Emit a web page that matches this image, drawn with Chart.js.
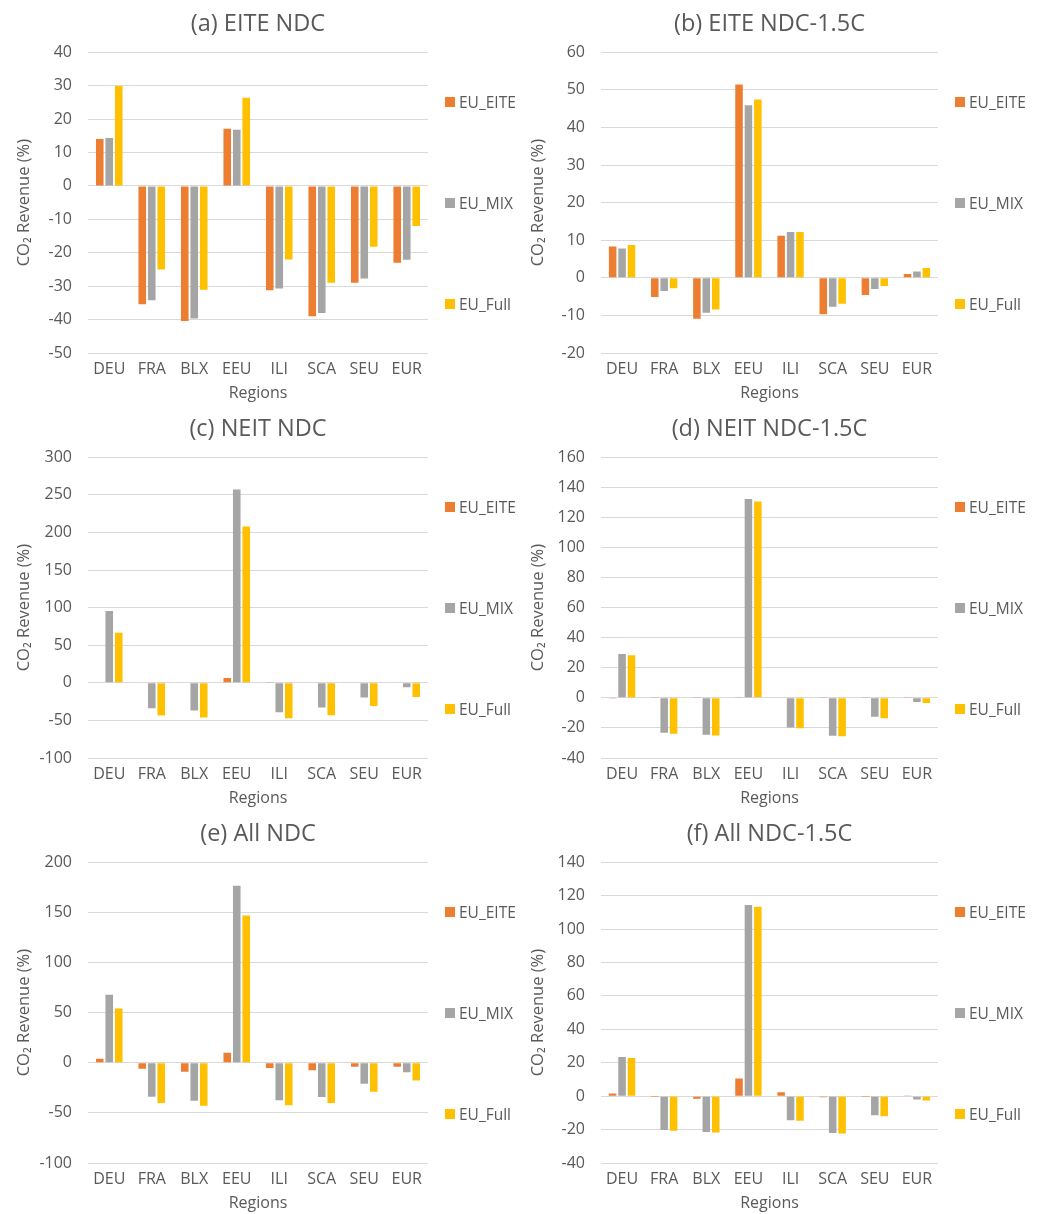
<!DOCTYPE html>
<html>
<head>
<meta charset="utf-8">
<title>CO2 Revenue by region</title>
<script src="https://cdn.jsdelivr.net/npm/chart.js@4.4.1/dist/chart.umd.min.js"></script>
<style>
  body { margin: 0; background: #fff; overflow: hidden; font-family: "Open Sans", sans-serif; }
  .panel { position: absolute; height: 405px; }
  .panel canvas { position: absolute; left: 0; top: 0; }
  .legend-item { position: absolute; display: flex; align-items: center; height: 18px;
                 font-size: 15.5px; color: #595959; white-space: nowrap; }
  .legend-item span { display: inline-block; width: 10px; height: 10px; margin-right: 4px; }
</style>
</head>
<body>
<div id="wrap"></div>
<script>
var regions = ["DEU", "FRA", "BLX", "EEU", "ILI", "SCA", "SEU", "EUR"];
var seriesNames = ["EU_EITE", "EU_MIX", "EU_Full"];
var seriesColors = ["#ED7D31", "#A5A5A5", "#FFC000"];

var panelTitles = ["(a) EITE NDC", "(b) EITE NDC-1.5C", "(c) NEIT NDC",
                   "(d) NEIT NDC-1.5C", "(e) All NDC", "(f) All NDC-1.5C"];
var yMin = [-50, -20, -100, -40, -100, -40];
var yMax = [40, 60, 300, 160, 200, 140];
var yStep = [10, 10, 50, 20, 50, 20];

// (a) EITE NDC
var aEite = [14, -35.4, -40.4, 17.1, -31.2, -39, -29, -23];
var aMix  = [14.3, -34.2, -39.7, 16.8, -30.7, -38, -27.7, -22.1];
var aFull = [29.9, -25, -31.1, 26.4, -22, -29, -18.2, -12];
// (b) EITE NDC-1.5C
var bEite = [8.3, -5.1, -10.9, 51.4, 11.2, -9.7, -4.6, 1.0];
var bMix  = [7.8, -3.5, -9.3, 45.9, 12.2, -7.7, -3.0, 1.7];
var bFull = [8.7, -2.8, -8.4, 47.4, 12.2, -6.9, -2.2, 2.6];
// (c) NEIT NDC
var cEite = [-0.6, 0.6, 0.6, 6.5, 0.9, 0.6, 0.6, 0.6];
var cMix  = [95.5, -34, -37, 257, -39, -33, -19.5, -5.8];
var cFull = [66.7, -43.5, -46, 208, -47.3, -43, -31, -19];
// (d) NEIT NDC-1.5C
var dEite = [-0.4, 0.3, 0.3, 0.2, 0.4, 0.3, 0.3, 0.2];
var dMix  = [29.2, -23.2, -24.5, 132.2, -19.7, -25.2, -12.6, -2.7];
var dFull = [28.3, -23.9, -25, 130.6, -20.3, -25.6, -13.5, -3.5];
// (e) All NDC
var eEite = [4, -6, -9, 10, -5.3, -7.6, -4, -4];
var eMix  = [67.8, -33.9, -37.9, 176.4, -37.5, -34.2, -20.9, -9.6];
var eFull = [54.2, -40.2, -42.9, 146.8, -42.5, -40.2, -28.9, -17.6];
// (f) All NDC-1.5C
var fEite = [1.6, -0.1, -1.6, 10.6, 2.4, -0.7, -0.1, 0.4];
var fMix  = [23.5, -20.3, -21.5, 114.4, -14.4, -22.1, -11.4, -2];
var fFull = [22.9, -20.7, -21.7, 113.4, -14.7, -22.3, -12, -2.6];

var panelData = [
    [aEite, aMix, aFull], [bEite, bMix, bFull],
    [cEite, cMix, cFull], [dEite, dMix, dFull],
    [eEite, eMix, eFull], [fEite, fMix, fFull]
];

var textColor = "#595959";
Chart.defaults.font.family = "'Open Sans', sans-serif";
Chart.defaults.color = textColor;

// column layout: left / right
var colX = [0, 520];
var colW = [520, 527];
var axisW = [88, 81];
var padRight = [92, 109];
var legendX = [445, 435];
var yTitlePad = [14, 8];
var rowY = [0, 405, 810];
var legendY = [93, 194, 295];

var wrap = document.getElementById("wrap");

panelData.forEach(function (values, p) {
    var col = p % 2, row = Math.floor(p / 2);
    var panel = document.createElement("div");
    panel.className = "panel";
    panel.style.left = colX[col] + "px";
    panel.style.top = rowY[row] + "px";
    panel.style.width = colW[col] + "px";
    wrap.appendChild(panel);

    var canvas = document.createElement("canvas");
    canvas.width = colW[col];
    canvas.height = 405;
    panel.appendChild(canvas);

    // legend as html
    seriesNames.forEach(function (name, i) {
        var item = document.createElement("div");
        item.className = "legend-item";
        item.style.left = legendX[col] + "px";
        item.style.top = legendY[i] + "px";
        var box = document.createElement("span");
        box.style.background = seriesColors[i];
        item.appendChild(box);
        item.appendChild(document.createTextNode(name));
        panel.appendChild(item);
    });

    new Chart(canvas, {
        type: "bar",
        data: {
            labels: regions,
            datasets: seriesNames.map(function (name, i) {
                return {
                    label: name,
                    data: values[i],
                    backgroundColor: seriesColors[i],
                    categoryPercentage: 0.67,
                    barPercentage: 0.8
                };
            })
        },
        options: {
            responsive: false,
            animation: false,
            devicePixelRatio: 1,
            layout: { padding: { left: 0, right: padRight[col], top: 0, bottom: 0 } },
            plugins: {
                legend: { display: false },
                tooltip: { enabled: false },
                title: {
                    display: true,
                    text: panelTitles[p],
                    fullSize: false,
                    color: textColor,
                    font: { size: 23.5, weight: "normal" },
                    padding: { top: 10, bottom: 14 }
                }
            },
            scales: {
                x: {
                    grid: { display: false, drawTicks: false },
                    border: { display: false },
                    ticks: { color: textColor, font: { size: 16 }, padding: 7, maxRotation: 0 },
                    title: {
                        display: true, text: "Regions", color: textColor,
                        font: { size: 16 }, padding: { top: 0, bottom: 2 }
                    },
                    afterFit: function (s) { s.height = 52; }
                },
                y: {
                    min: yMin[p],
                    max: yMax[p],
                    ticks: { stepSize: yStep[p], color: textColor, font: { size: 16 }, padding: 16 },
                    grid: { color: "#D9D9D9", drawTicks: false },
                    border: { display: false },
                    title: {
                        display: true, text: "CO₂ Revenue (%)", color: textColor,
                        font: { size: 16.5 }, padding: { top: yTitlePad[col], bottom: 0 }
                    },
                    afterFit: function (s) { s.width = axisW[col]; }
                }
            }
        }
    });
});
</script>
</body>
</html>
